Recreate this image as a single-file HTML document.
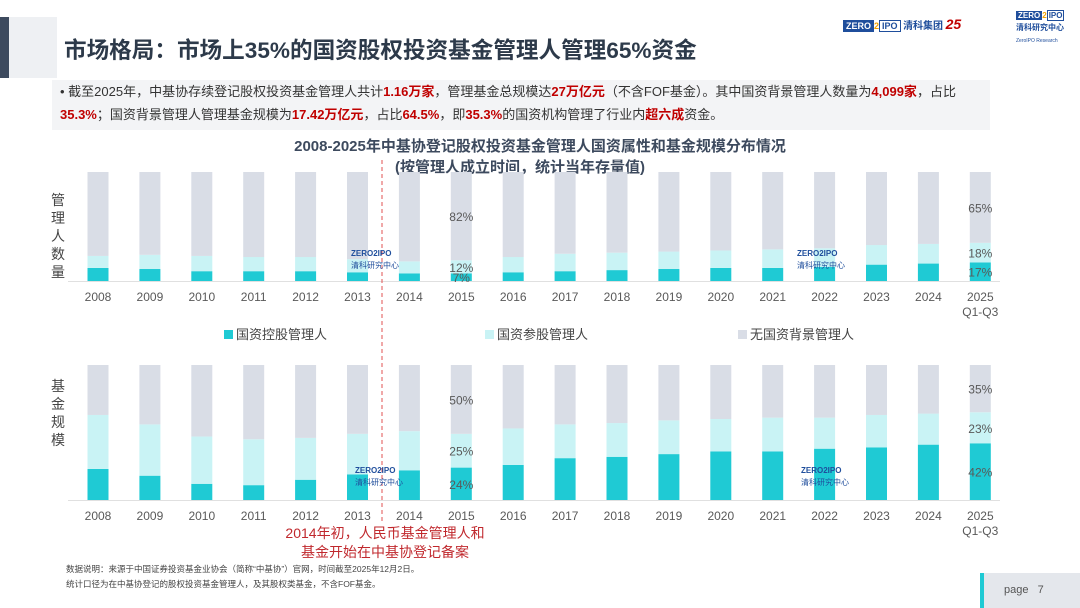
<!DOCTYPE html>
<html><head><meta charset="utf-8">
<style>
body{margin:0;width:1080px;height:608px;overflow:hidden;background:#fff;font-family:"Liberation Sans","Noto Sans CJK SC",sans-serif;position:relative}
.abs{position:absolute}
.red{color:#c00000;font-weight:bold}
</style></head><body>
<div class="abs" style="left:0;top:17px;width:9px;height:61px;background:#3d4a5e"></div>
<div class="abs" style="left:9px;top:17px;width:48px;height:61px;background:#eef0f3"></div>
<div class="abs" style="left:64px;top:32px;font-size:22.6px;font-weight:bold;color:#2d3a4a">市场格局：市场上35%的国资股权投资基金管理人管理65%资金</div>
<div class="abs" style="left:843px;top:16px;font-size:9px;color:#1f4e9c;font-weight:bold"><span style="border:1px solid #1f4e9c;padding:0 2px;background:#1f4e9c;color:#fff">ZERO</span><span style="color:#f0a000">2</span><span style="border:1px solid #1f4e9c;padding:0 2px">IPO</span> <span style="color:#1f4e9c;font-size:10px">清科集团</span> <span style="color:#c00000;font-size:14px;font-style:italic">25</span></div>
<div class="abs" style="left:1016px;top:10px;font-size:8px;color:#1f4e9c;font-weight:bold;line-height:12px"><span style="background:#1f4e9c;color:#fff;padding:0 2px">ZERO</span><span style="color:#f0a000">2</span><span style="border:1px solid #1f4e9c;padding:0 1px">IPO</span><br>清科研究中心<br><span style="font-size:5px;font-weight:normal">ZeroIPO Research</span></div>
<div class="abs" style="left:52px;top:80px;width:938px;height:50px;background:#f3f4f6;font-size:13px;color:#333;line-height:23px;padding:0 0 0 8px;box-sizing:border-box">
<div style="padding-right:14px">• 截至2025年，中基协存续登记股权投资基金管理人共计<span class="red">1.16万家</span>，管理基金总规模达<span class="red">27万亿元</span>（不含FOF基金）。其中国资背景管理人数量为<span class="red">4,099家</span>，占比<span class="red">35.3%</span>；国资背景管理人管理基金规模为<span class="red">17.42万亿元</span>，占比<span class="red">64.5%</span>，即<span class="red">35.3%</span>的国资机构管理了行业内<span class="red">超六成</span>资金。</div></div>
<div class="abs" style="left:0;width:1080px;top:136px;text-align:center;font-size:15px;font-weight:bold;color:#3d4a5e;line-height:21px">2008-2025年中基协登记股权投资基金管理人国资属性和基金规模分布情况<br><span style="margin-left:-40px">(按管理人成立时间，统计当年存量值)</span></div>
<svg id="chart" class="abs" style="left:0;top:0" width="1080" height="608"></svg>
<div class="abs" style="left:280px;top:524px;width:210px;text-align:center;font-size:14px;color:#c0282d;line-height:19px">2014年初，人民币基金管理人和<br>基金开始在中基协登记备案</div>
<div class="abs" style="left:66px;top:562px;font-size:8.5px;color:#444;line-height:15px">数据说明：来源于中国证券投资基金业协会（简称“中基协”）官网，时间截至2025年12月2日。<br>统计口径为在中基协登记的股权投资基金管理人，及其股权类基金，不含FOF基金。</div>
<div class="abs" style="left:980px;top:573px;width:100px;height:35px;background:#e4e7ec;border-left:4px solid #1fcad4;font-size:11px;color:#555;line-height:35px;padding-left:20px;box-sizing:border-box">page &nbsp; 7</div>
<script>
const years=["2008","2009","2010","2011","2012","2013","2014","2015","2016","2017","2018","2019","2020","2021","2022","2023","2024","2025"];
const cntCtrl=[12,11,9,9,9,8,7,7,8,9,10,11,12,12,13,15,16,17];
const cntPart=[11,13,14,13,13,12,11,12,14,16,16,16,16,17,17,18,18,18];
const amtCtrl=[23,18,12,11,15,19,22,24,26,31,32,34,36,36,38,39,41,42];
const amtPart=[40,38,35,34,31,30,29,25,27,25,25,25,24,25,23,24,23,23];
const cntLabels2015=["7%","12%","82%"];
const cntLabels2025=["17%","18%","65%"];
const amtLabels2015=["24%","25%","50%"];
const amtLabels2025=["42%","23%","35%"];
const legendNames=["国资控股管理人","国资参股管理人","无国资背景管理人"];
const colors=["#1fcad4","#c9f3f5","#d9dde6"];
const svg=document.getElementById('chart');
const NS="http://www.w3.org/2000/svg";
function mk(t,a){const e=document.createElementNS(NS,t);for(const k in a)e.setAttribute(k,a[k]);svg.appendChild(e);return e;}
const x=i=>98+i*51.9;
function panel(ctrl,part,top,base,tag,labels){
  const h=base-top, y=v=>base-v/100*h;
  mk('line',{x1:68,x2:1000,y1:base+0.5,y2:base+0.5,stroke:'#e0e0e0'});
  years.forEach((yr,i)=>{
    const segs=[[0,ctrl[i]],[ctrl[i],ctrl[i]+part[i]],[ctrl[i]+part[i],100]];
    segs.forEach((s,j)=>{
      const r=mk('rect',{x:x(i)-10.5,width:21,y:y(s[1]),height:y(s[0])-y(s[1]),fill:colors[j]});
      
      
    });
    const t=mk('text',{x:x(i),y:base+20,'text-anchor':'middle','font-size':12,fill:'#595959'});
    t.textContent=yr;
    
    
    if(yr==="2025"){const q=mk('text',{x:x(i),y:base+35,'text-anchor':'middle','font-size':12,fill:'#595959'});q.textContent='Q1-Q3';}
  });
  [[7,labels[0]],[17,labels[1]]].forEach(([i,lab])=>{
    const c=ctrl[i],p=part[i],o=100-c-p;
    [c/2,c+p/2,c+p+o/2].forEach((mid,k)=>{
      const t=mk('text',{x:x(i),y:y(mid)+5,'text-anchor':'middle','font-size':12,fill:'#595959'});
      t.textContent=lab[k];
      
      
    });
  });
}
panel(cntCtrl,cntPart,172,281,'count',[cntLabels2015,cntLabels2025]);
panel(amtCtrl,amtPart,365,500,'amount',[amtLabels2015,amtLabels2025]);
[["管","理","人","数","量"],["基","金","规","模"]].forEach((w,k)=>{
  w.forEach((c,i)=>{const t=mk('text',{x:58,y:(k?391:205)+i*18,'text-anchor':'middle','font-size':14,fill:'#444'});t.textContent=c;});
});
[[224,0],[485,1],[738,2]].forEach(([lx,j])=>{
  const r=mk('rect',{x:lx,y:330,width:9,height:9,fill:colors[j]});
  
  
  const t=mk('text',{x:lx+12,y:339,'font-size':13,fill:'#444'});t.textContent=legendNames[j];
  
  
});
const dl=mk('line',{x1:382,x2:382,y1:160,y2:524,stroke:'#e05050','stroke-dasharray':'4,3','stroke-width':1});


[[351,248],[797,248],[355,465],[801,465]].forEach(([wx,wy])=>{
  const t=mk('text',{x:wx,y:wy+8,'font-size':8,fill:'#1f4e9c','font-weight':'bold'});t.textContent='ZERO2IPO';
  const t2=mk('text',{x:wx,y:wy+20,'font-size':8,fill:'#1f4e9c'});t2.textContent='清科研究中心';
});
</script>
</body></html>
